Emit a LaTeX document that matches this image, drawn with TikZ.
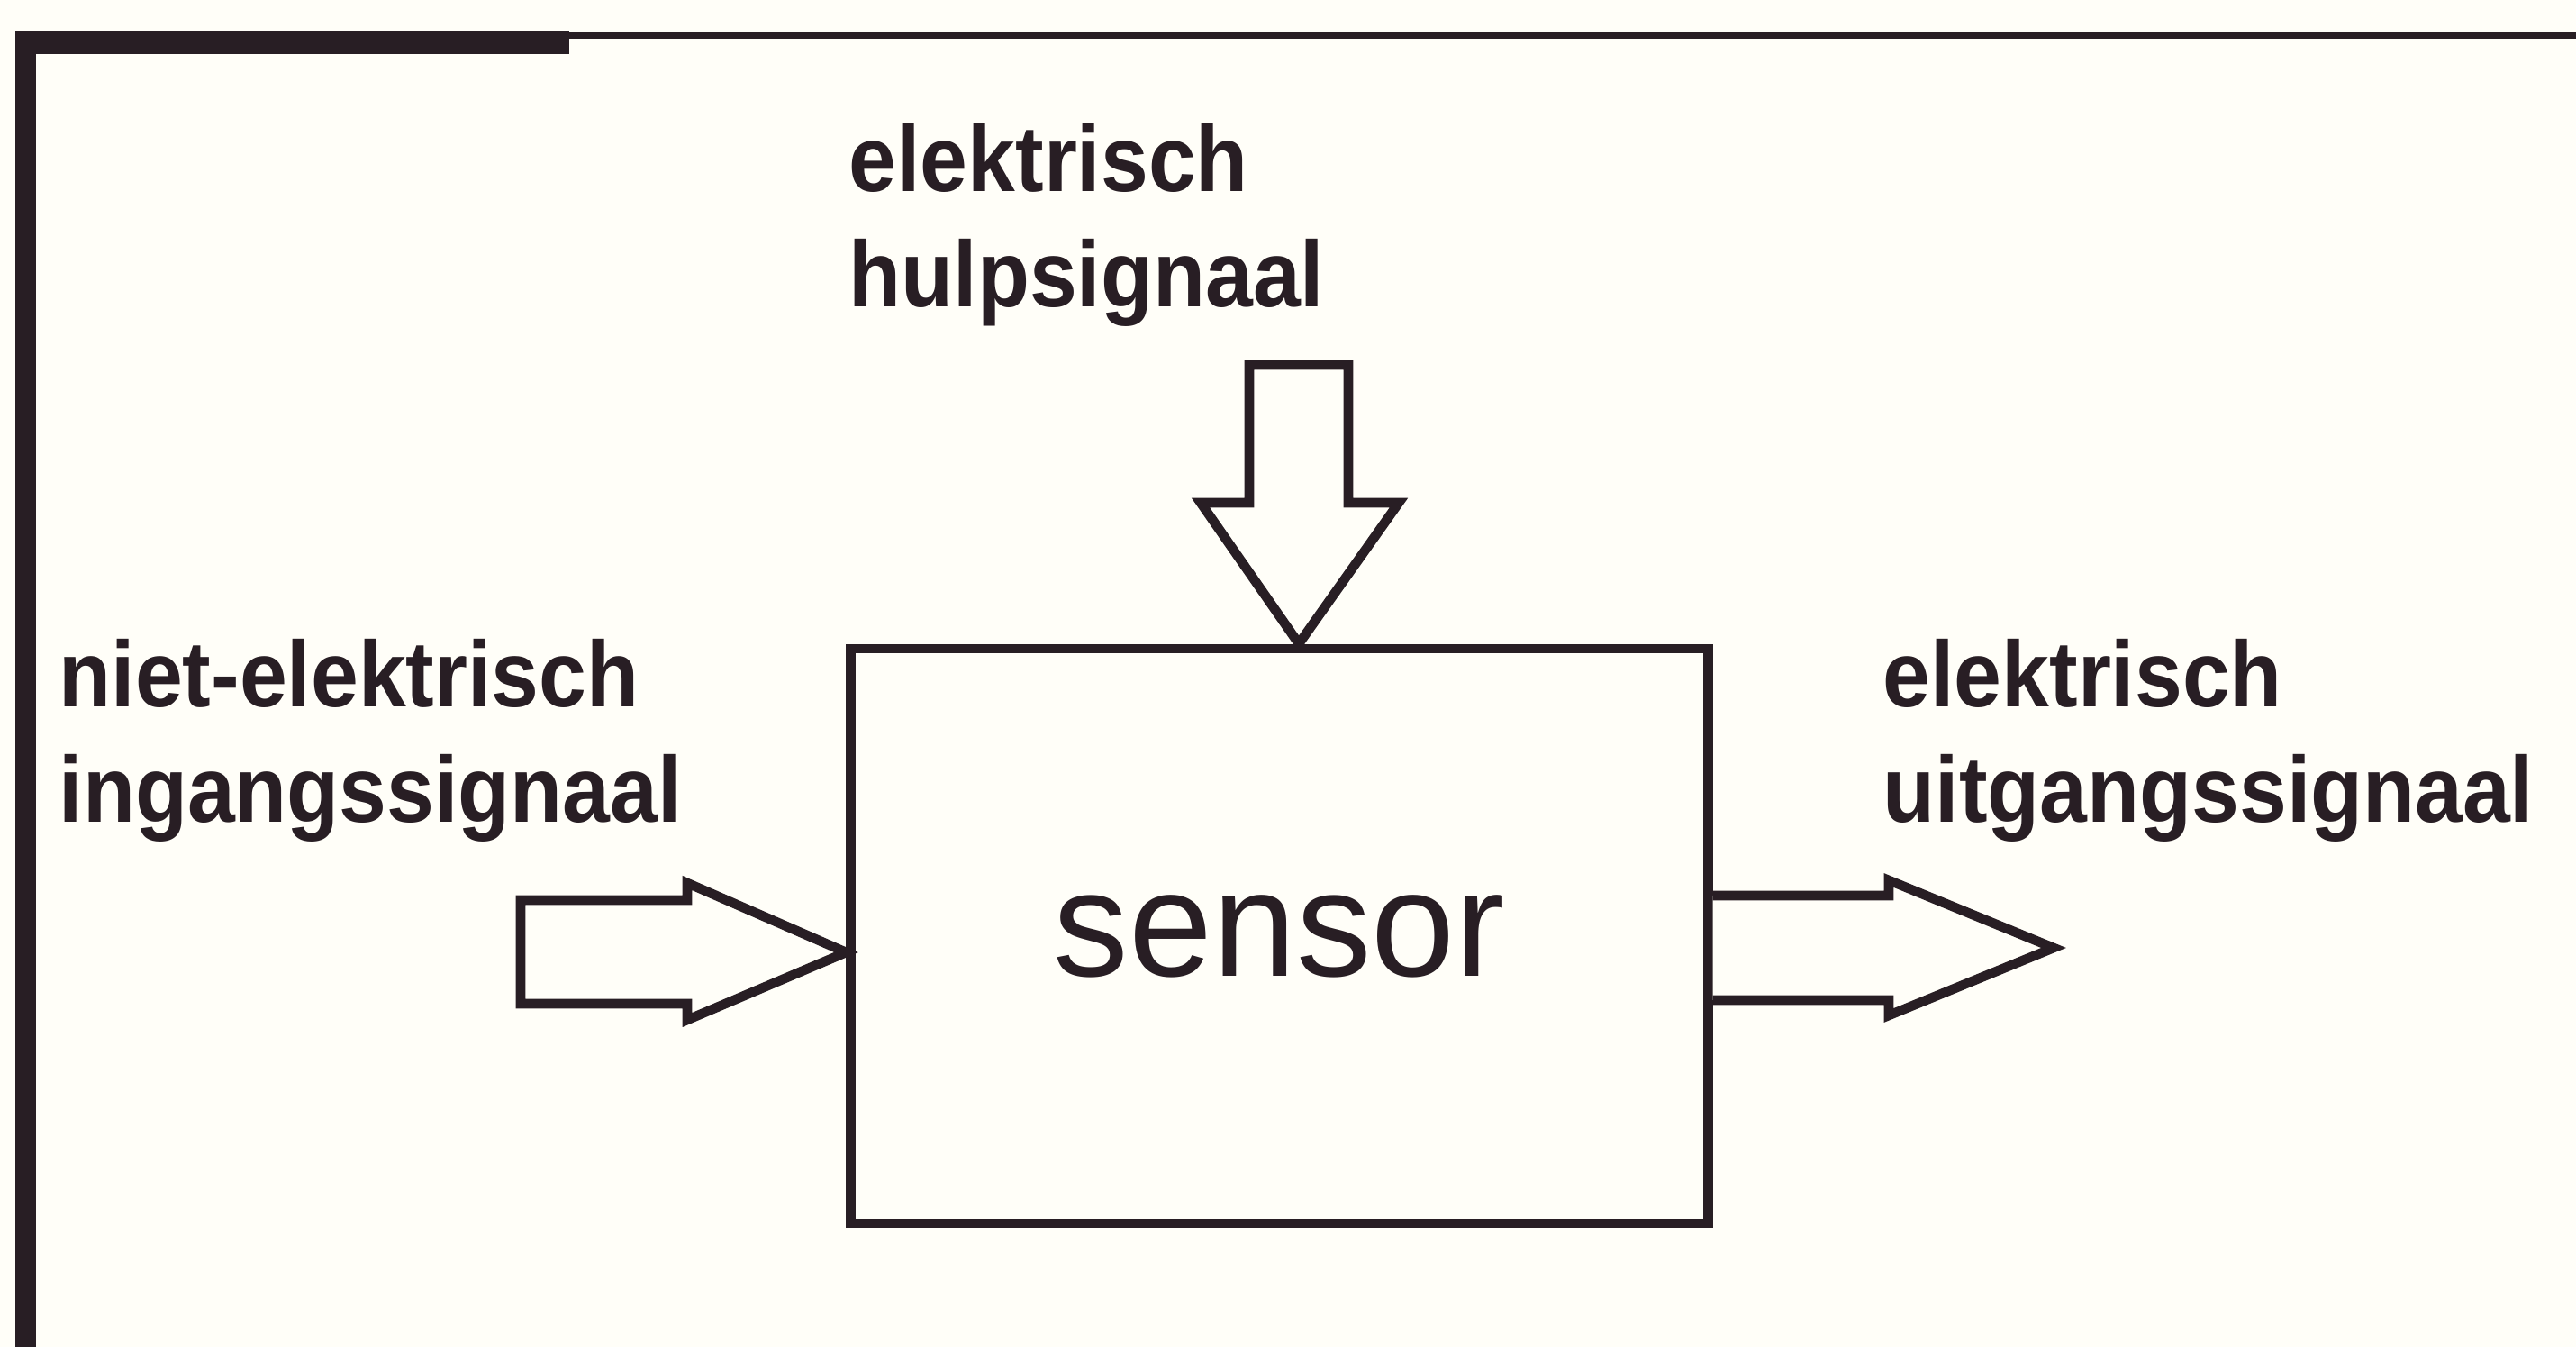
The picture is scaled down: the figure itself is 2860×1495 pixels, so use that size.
\documentclass[tikz,border=0pt]{standalone}
\usepackage{fontspec}
\setmainfont{Liberation Sans}
\definecolor{ink}{RGB}{40,30,36}
\definecolor{paper}{RGB}{255,254,248}
\newcommand{\lbltext}[2]{\scalebox{0.915}[1]{\begin{tabular}{@{}l@{}}#1\\#2\end{tabular}}}
\begin{document}
\begin{tikzpicture}[x=0.01cm,y=-0.01cm,
  blockarrow/.style={draw=ink,line width=3pt,line join=miter,fill=paper},
  label/.style={anchor=north west,inner sep=0pt,text=ink,
    font=\bfseries\fontsize{29.5pt}{36.5pt}\selectfont},
  sensorbox/.style={draw=ink,line width=3pt,fill=paper,inner sep=0pt,
    minimum width=9.51cm,minimum height=6.38cm,text=ink,
    font=\fontsize{47.5pt}{56pt}\selectfont}]
\fill[paper] (0,0) rectangle (2860,1495);
\useasboundingbox (0,0) rectangle (2860,1495);
% frame
\fill[ink] (17,34) rectangle (632,60);
\fill[ink] (632,35) rectangle (2860,43);
\fill[ink] (17,34) rectangle (40,1495);
% central block
\node[sensorbox] (box) at (1420.5,1039) {sensor};
% top input arrow
\coordinate (ttip) at (box.north -| 1442,0);
\draw[blockarrow] (1387,405) -- (1497,405) -- (1497,558) -- (1553,558) -- (ttip)
  -- (1333,558) -- (1387,558) -- cycle;
% left input arrow
\coordinate (ltip) at (box.west |- 0,1057);
\draw[blockarrow] (578,999) -- (763,999) -- (763,980) -- (ltip) -- (763,1132)
  -- (763,1114) -- (578,1114) -- cycle;
% right output arrow
\coordinate (rtip) at (2280,1052);
\draw[blockarrow] (box.east |- 0,994) -- (2097,994) -- (2097,977) -- (rtip)
  -- (2097,1127) -- (2097,1110) -- (box.east |- 0,1110);
% labels
\node[label] (aux) at (942,122) {\lbltext{elektrisch}{hulpsignaal}};
\node[label] (inp) at (65,694) {\lbltext{niet-elektrisch}{ingangssignaal}};
\node[label] (outp) at (2090,694) {\lbltext{elektrisch}{uitgangssignaal}};
\end{tikzpicture}
\end{document}
